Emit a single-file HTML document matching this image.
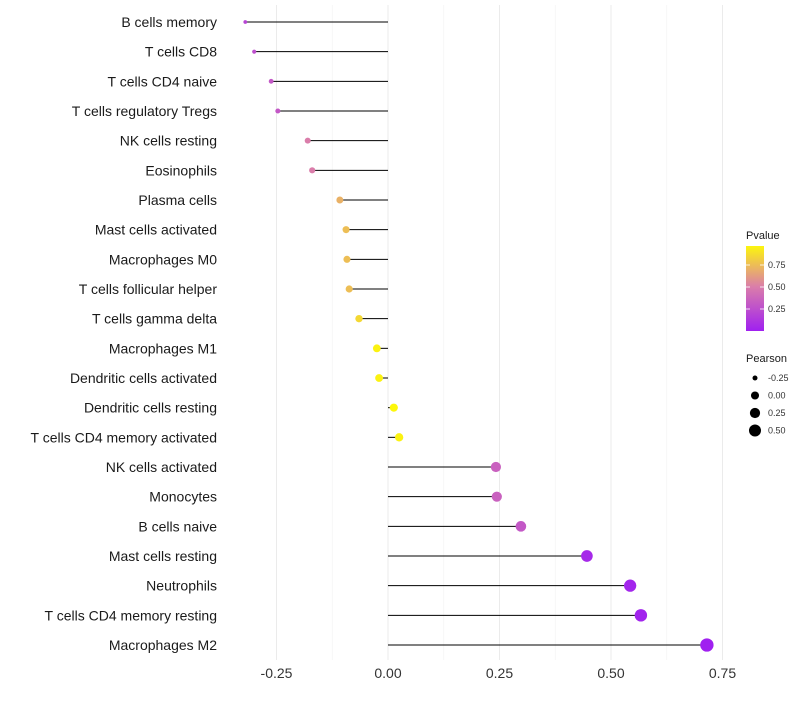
<!DOCTYPE html>
<html><head><meta charset="utf-8"><style>
body{margin:0;background:#fff;font-family:"Liberation Sans",sans-serif}
</style></head><body>
<svg id="chart" width="800" height="700" xmlns="http://www.w3.org/2000/svg"></svg>
<script>
const categories=["B cells memory","T cells CD8","T cells CD4 naive","T cells regulatory  Tregs","NK cells resting","Eosinophils","Plasma cells","Mast cells activated","Macrophages M0","T cells follicular helper","T cells gamma delta","Macrophages M1","Dendritic cells activated","Dendritic cells resting","T cells CD4 memory activated","NK cells activated","Monocytes","B cells naive","Mast cells resting","Neutrophils","T cells CD4 memory resting","Macrophages M2"];
const pearson=[-0.32,-0.30,-0.262,-0.247,-0.18,-0.17,-0.108,-0.094,-0.092,-0.087,-0.065,-0.025,-0.02,0.013,0.025,0.242,0.244,0.298,0.446,0.543,0.567,0.715];
const pvalue=[0.2,0.25,0.3,0.3,0.5,0.5,0.7,0.75,0.75,0.75,0.85,0.95,0.95,0.97,0.95,0.35,0.35,0.3,0.05,0.03,0.02,0.001];
const xTicks=[-0.25,0,0.25,0.5,0.75];
const xTickLabels=["-0.25","0.00","0.25","0.50","0.75"];
const pvTicks=[0.25,0.5,0.75];
const pvTickLabels=["0.25","0.50","0.75"];
const sizeLegend=[-0.25,0,0.25,0.5];
const sizeLegendLabels=["-0.25","0.00","0.25","0.50"];

const NS="http://www.w3.org/2000/svg";
const svg=document.getElementById('chart');
function mk(tag,attrs,parent){const e=document.createElementNS(NS,tag);for(const k in attrs)e.setAttribute(k,attrs[k]);(parent||svg).appendChild(e);return e;}
const x=v=>388+v*446;
const y=i=>22+i*(623/21);
const r=v=>Math.sqrt(Math.max(1,16.2+39.7*v));
function col(p){
  const s=[[0,[160,32,240]],[0.5,[218,125,170]],[1,[255,255,0]]];
  let a=s[0],b=s[1]; if(p>0.5){a=s[1];b=s[2];}
  const t=(p-a[0])/(b[0]-a[0]);
  const c=a[1].map((v,k)=>Math.round(v+(b[1][k]-v)*t));
  return `rgb(${c[0]},${c[1]},${c[2]})`;
}
// grid
const minor=[-0.375,-0.125,0.125,0.375,0.625];
minor.forEach(v=>{if(x(v)>230){const g=mk('line',{x1:x(v),x2:x(v),y1:5,y2:660,stroke:'#f2f2f2','stroke-width':0.6});
}});
xTicks.forEach((v,i)=>{
  const g=mk('line',{x1:x(v),x2:x(v),y1:5,y2:660,stroke:'#ebebeb','stroke-width':1});
  
  
  const t=mk('text',{x:x(v),y:678,'text-anchor':'middle','font-size':14,fill:'#333'});
  t.textContent=xTickLabels[i];
  
  
});
categories.forEach((c,i)=>{
  const t=mk('text',{x:217,y:y(i)+5,'text-anchor':'end','font-size':14,fill:'#1a1a1a'});
  t.textContent=c;
  
  
  const l=mk('line',{x1:x(0),x2:x(pearson[i]),y1:y(i),y2:y(i),stroke:'#000','stroke-width':1});
  
  
  const d=mk('circle',{cx:x(pearson[i]),cy:y(i),r:r(pearson[i]),fill:col(pvalue[i])});
  
  
});
// Pvalue legend
const lt=mk('text',{x:746,y:239,'font-size':11,fill:'#1a1a1a'});lt.textContent='Pvalue';

const defs=mk('defs',{});
const gr=mk('linearGradient',{id:'pg',x1:0,y1:1,x2:0,y2:0},defs);
[0,0.25,0.5,0.75,0.96].forEach(p=>mk('stop',{offset:p/0.96,'stop-color':col(p)},gr));
const bar=mk('rect',{x:746,y:246,width:18,height:85,fill:'url(#pg)'});

pvTicks.forEach((p,i)=>{
  const yy=331-p*88;
  mk('line',{x1:746,x2:750,y1:yy,y2:yy,stroke:'#fff','stroke-width':0.8});
  mk('line',{x1:760,x2:764,y1:yy,y2:yy,stroke:'#fff','stroke-width':0.8});
  const t=mk('text',{x:768,y:yy+3,'font-size':9,fill:'#333'});t.textContent=pvTickLabels[i];
  
  
});
const st=mk('text',{x:746,y:362,'font-size':11,fill:'#1a1a1a'});st.textContent='Pearson';

sizeLegend.forEach((v,i)=>{
  const yy=378+i*17.5;
  const c=mk('circle',{cx:755,cy:yy,r:r(v),fill:'#000'});
  
  
  const t=mk('text',{x:768,y:yy+3,'font-size':9,fill:'#333'});t.textContent=sizeLegendLabels[i];
  
  
});
</script>
</body></html>
